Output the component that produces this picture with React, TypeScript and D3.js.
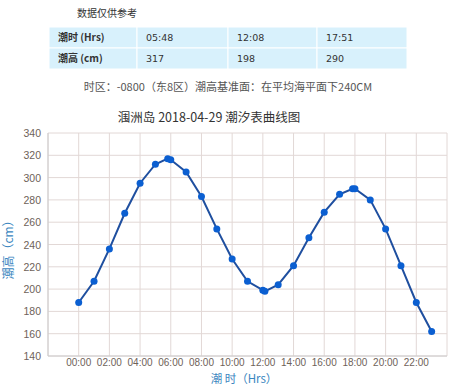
import React, { useEffect, useRef } from "react";
import * as d3 from "d3";

// 潮汐数据 (小时, 潮高cm)
const hours = [0, 1, 2, 3, 4, 5, 5.8, 6, 7, 8, 9, 10, 11, 12, 12.133, 13, 14, 15, 16, 17, 17.85, 18, 19, 20, 21, 22, 23];
const heights = [188, 207, 236, 268, 295, 312, 317, 316, 305, 283, 254, 227, 207, 199, 198, 204, 221, 246, 269, 285, 290, 290, 280, 254, 221, 188, 162];

const tableHead = ["潮时 (Hrs)", "05:48", "12:08", "17:51"];
const tableRow = ["潮高 (cm)", "317", "198", "290"];

const yTicks = [140, 160, 180, 200, 220, 240, 260, 280, 300, 320, 340];
const xTicks = [0, 2, 4, 6, 8, 10, 12, 14, 16, 18, 20, 22];

const W = 450;
const H = 387;

export default function App() {
  const ref = useRef<SVGSVGElement>(null);

  useEffect(() => {
    const svg = d3.select(ref.current);
    svg.selectAll("*").remove();
    const font = "'DejaVu Sans', Verdana, sans-serif";
    const tick = "'Liberation Sans', Arial, sans-serif";
    const cjk = "'Noto Sans CJK SC', sans-serif";

    // 顶部说明
    svg.append("text").attr("x", 77).attr("y", 17).attr("font-size", 10)
      .attr("font-family", cjk).attr("fill", "#333").text("数据仅供参考");

    const colX = [49, 137, 228, 317, 407];
    const rowY = [27, 48, 69];
    [tableHead, tableRow].forEach((row, r) => {
      row.forEach((cell, c) => {
        svg.append("rect").attr("x", colX[c]).attr("y", rowY[r])
          .attr("width", colX[c + 1] - colX[c]).attr("height", rowY[r + 1] - rowY[r])
          .attr("fill", "#d8f1fc").attr("stroke", "#fff").attr("stroke-width", 1);
        svg.append("text").attr("x", colX[c] + 9).attr("y", rowY[r] + 14)
          .attr("font-size", c === 0 ? 10 : 9.5)
          .attr("font-weight", c === 0 ? "bold" : "normal")
          .attr("font-family", c === 0 ? cjk : font)
          .attr("fill", "#333").text(cell);
      });
    });

    svg.append("text").attr("x", 228).attr("y", 91).attr("text-anchor", "middle")
      .attr("font-size", 11).attr("font-family", cjk).attr("fill", "#555")
      .text("时区：-0800（东8区）潮高基准面：在平均海平面下240CM");

    // 图表
    const m = { left: 48, right: 447, top: 133, bottom: 356 };
    const x = d3.scaleLinear().domain([-2, 24]).range([m.left, m.right]);
    const y = d3.scaleLinear().domain([140, 340]).range([m.bottom, m.top]);

    svg.append("text").attr("x", 209).attr("y", 122).attr("text-anchor", "middle")
      .attr("font-size", 12.5).attr("font-family", cjk).attr("fill", "#333")
      .text("涠洲岛 2018-04-29 潮汐表曲线图");

    const grid = svg.append("g");
    grid.selectAll("line.h").data(yTicks).join("line").attr("class", "h")
      .attr("x1", m.left).attr("x2", m.right)
      .attr("y1", d => y(d)).attr("y2", d => y(d))
      .attr("stroke", "#e2d8d6").attr("stroke-width", 1);
    grid.selectAll("line.v").data(d3.range(-2, 25, 2)).join("line").attr("class", "v")
      .attr("y1", m.top).attr("y2", m.bottom)
      .attr("x1", d => x(d)).attr("x2", d => x(d))
      .attr("stroke", "#e2d8d6").attr("stroke-width", 1);

    svg.append("line").attr("x1", m.left).attr("x2", m.left).attr("y1", m.top).attr("y2", m.bottom)
      .attr("stroke", "#ccc");
    svg.append("line").attr("x1", m.left).attr("x2", m.right).attr("y1", m.bottom).attr("y2", m.bottom)
      .attr("stroke", "#ccc");

    svg.selectAll("text.yt").data(yTicks).join("text").attr("class", "yt")
      .attr("x", 41).attr("y", d => y(d) + 4).attr("text-anchor", "end")
      .attr("font-size", 10.5).attr("font-family", tick).attr("fill", "#6e6259")
      .text(d => d);

    svg.selectAll("text.xt").data(xTicks).join("text").attr("class", "xt")
      .attr("x", d => x(d)).attr("y", 366).attr("text-anchor", "middle")
      .attr("font-size", 10).attr("font-family", tick).attr("fill", "#6e6259")
      .text(d => d3.format("02d")(d) + ":00");

    svg.append("text").attr("transform", "translate(13,247) rotate(-90)")
      .attr("text-anchor", "middle").attr("font-size", 12).attr("font-family", cjk)
      .attr("fill", "#3a86c0").text("潮高（cm）");

    svg.append("text").attr("x", 244).attr("y", 383).attr("text-anchor", "middle")
      .attr("font-size", 11.5).attr("font-family", cjk).attr("fill", "#3a86c0")
      .text("潮 时（Hrs）");

    const pts: [number, number][] = hours.map((h, i) => [h, heights[i]]);
    const line = d3.line<[number, number]>().x(d => x(d[0])).y(d => y(d[1]));
    svg.append("path").attr("d", line(pts)).attr("fill", "none")
      .attr("stroke", "#1f4f9f").attr("stroke-width", 2);
    svg.selectAll("circle").data(pts).join("circle")
      .attr("cx", d => x(d[0])).attr("cy", d => y(d[1])).attr("r", 3.5)
      .attr("fill", "#0b5fd1");
  }, []);

  return (
    <svg ref={ref} width={W} height={H}
      style={{ position: "absolute", left: 0, top: 0, background: "#fff" }} />
  );
}
